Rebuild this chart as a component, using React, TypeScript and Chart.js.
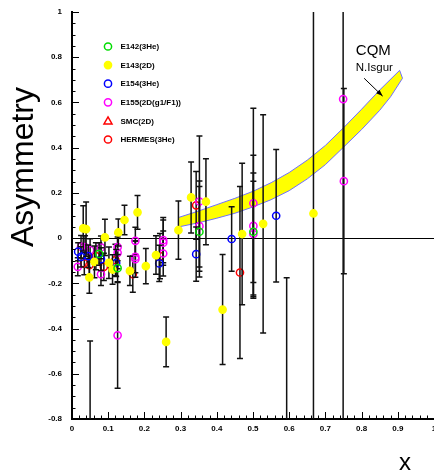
import { useEffect, useRef } from 'react';
import { Chart, registerables } from 'chart.js';

Chart.register(...registerables);

const FONT = '"Liberation Sans", Arial, Helvetica, sans-serif';

// ---- axis ticks ----
const xMajorTicks = [0, 0.1, 0.2, 0.3, 0.4, 0.5, 0.6, 0.7, 0.8, 0.9, 1];
const yMajorTicks = [-0.8, -0.6, -0.4, -0.2, 0, 0.2, 0.4, 0.6, 0.8, 1];

// ---- series (x, asymmetry, error) ----
const e142X = [0.075, 0.126, 0.352, 0.501];
const e142Y = [-0.07, -0.133, 0.028, 0.028];
const e142Err = [0.05, 0.06, 0.2, 0.224];

const e143X = [0.031, 0.039, 0.048, 0.062, 0.091, 0.102, 0.112, 0.128, 0.145, 0.16, 0.181, 0.204, 0.232, 0.26, 0.294, 0.329, 0.37, 0.416, 0.47, 0.528, 0.593, 0.667, 0.05];
const e143Y = [0.043, 0.04, -0.174, -0.105, 0.003, -0.109, -0.139, 0.025, 0.08, -0.145, 0.114, -0.124, -0.075, -0.459, 0.035, 0.18, 0.161, -0.316, 0.018, 0.063, -1.0, 0.109, -1.3];
const e143Err = [0.1, 0.12, 0.07, 0.07, 0.08, 0.07, 0.065, 0.06, 0.065, 0.065, 0.075, 0.078, 0.085, 0.11, 0.129, 0.157, 0.19, 0.243, 0.313, 0.483, 0.825, 2.0, 0.845];

const e154X = [0.017, 0.025, 0.045, 0.08, 0.122, 0.241, 0.343, 0.441, 0.564];
const e154Y = [-0.06, -0.083, -0.08, -0.093, -0.11, -0.112, -0.071, -0.004, 0.099];
const e154Err = [0.04, 0.045, 0.05, 0.05, 0.06, 0.08, 0.12, 0.143, 0.293];

const e155X = [0.016, 0.025, 0.036, 0.05, 0.08, 0.08, 0.126, 0.126, 0.126, 0.175, 0.175, 0.175, 0.252, 0.252, 0.252, 0.352, 0.352, 0.501, 0.501, 0.501, 0.749, 0.751];
const e155Y = [-0.127, -0.038, -0.04, -0.053, -0.041, -0.16, -0.04, -0.065, -0.43, -0.012, -0.083, -0.093, -0.009, -0.02, -0.068, 0.162, 0.053, 0.154, 0.054, 0.018, 0.615, 0.252];
const e155Err = [0.04, 0.05, 0.05, 0.05, 0.05, 0.05, 0.06, 0.07, 0.234, 0.06, 0.07, 0.08, 0.1, 0.1, 0.1, 0.29, 0.2, 0.42, 0.313, 0.27, 1.5, 0.41];

const smcX: number[] = [];
const smcY: number[] = [];
const smcErr: number[] = [];

const hermesX = [0.034, 0.048, 0.066, 0.088, 0.12, 0.168, 0.243, 0.343, 0.464];
const hermesY = [-0.112, -0.12, -0.08, -0.127, -0.097, -0.159, -0.08, 0.145, -0.152];
const hermesErr = [0.05, 0.05, 0.06, 0.06, 0.07, 0.08, 0.1, 0.15, 0.38];

// ---- CQM band (N. Isgur) ----
const bandUpperX = [0.296, 0.35, 0.4, 0.45, 0.5, 0.55, 0.6, 0.65, 0.7, 0.75, 0.8, 0.85, 0.905];
const bandUpperY = [0.092, 0.12, 0.148, 0.176, 0.207, 0.245, 0.29, 0.345, 0.41, 0.488, 0.57, 0.655, 0.742];
const bandLowerX = [0.296, 0.35, 0.4, 0.45, 0.5, 0.55, 0.6, 0.65, 0.7, 0.75, 0.8, 0.85, 0.88, 0.913];
const bandLowerY = [0.05, 0.068, 0.088, 0.11, 0.138, 0.17, 0.21, 0.262, 0.325, 0.402, 0.48, 0.565, 0.625, 0.707];

// annotation anchors (data coords)
const cqmLabelAt = { x: 0.784, y: 0.81 };
const isgurLabelAt = { x: 0.784, y: 0.739 };
const arrowFrom = { x: 0.807, y: 0.707 };
const arrowTo = { x: 0.858, y: 0.628 };

const pts = (xs: number[], ys: number[]) => xs.map((x, i) => ({ x, y: ys[i] }));

const fmt = (v: number) => {
  const r = Math.round(v * 10) / 10;
  return r === 0 ? '0' : String(r);
};

const errorBarPlugin = {
  id: 'errorBars',
  beforeDatasetDraw(chart: any, args: any) {
    const ds = chart.data.datasets[args.index];
    if (!ds.errors) return;
    const { ctx, chartArea, scales } = chart;
    const xs = scales.x, ys = scales.y;
    ctx.save();
    ctx.beginPath();
    ctx.rect(chartArea.left, chartArea.top, chartArea.right - chartArea.left, chartArea.bottom - chartArea.top);
    ctx.clip();
    ctx.strokeStyle = '#111';
    ctx.lineWidth = 1.5;
    ds.data.forEach((p: any, j: number) => {
      const e = ds.errors[j];
      const px = xs.getPixelForValue(p.x);
      const yt = ys.getPixelForValue(p.y + e);
      const yb = ys.getPixelForValue(p.y - e);
      ctx.beginPath();
      ctx.moveTo(px, yt);
      ctx.lineTo(px, yb);
      ctx.moveTo(px - 3, yt);
      ctx.lineTo(px + 3, yt);
      ctx.moveTo(px - 3, yb);
      ctx.lineTo(px + 3, yb);
      ctx.stroke();
    });
    ctx.restore();
  },
};

const decorPlugin = {
  id: 'decor',
  afterDraw(chart: any) {
    const { ctx, chartArea, scales } = chart;
    const xs = scales.x, ys = scales.y;
    ctx.save();
    // inward tick marks
    ctx.strokeStyle = '#000';
    ctx.lineWidth = 1;
    ctx.beginPath();
    for (let i = 0; i <= 50; i++) {
      const v = i * 0.02;
      const px = Math.round(xs.getPixelForValue(v)) + 0.5;
      const len = i % 5 === 0 ? 7 : 3.5;
      ctx.moveTo(px, chartArea.bottom);
      ctx.lineTo(px, chartArea.bottom - len);
    }
    for (let i = 0; i <= 36; i++) {
      const v = -0.8 + i * 0.05;
      const py = Math.round(ys.getPixelForValue(v)) + 0.5;
      const len = i % 4 === 0 ? 7 : 3.5;
      ctx.moveTo(chartArea.left, py);
      ctx.lineTo(chartArea.left + len, py);
    }
    ctx.stroke();

    // legend
    const items = chart.data.datasets.filter((d: any) => d.legendLabel);
    const lx = chartArea.left + 36;
    const ly0 = chartArea.top + 34.5;
    const dy = 18.6;
    ctx.font = `bold 8px ${FONT}`;
    ctx.textBaseline = 'middle';
    ctx.textAlign = 'left';
    items.forEach((d: any, i: number) => {
      const y = ly0 + i * dy;
      ctx.lineWidth = 1.5;
      ctx.strokeStyle = d.borderColor;
      ctx.fillStyle = d.backgroundColor;
      ctx.beginPath();
      if (d.pointStyle === 'triangle') {
        ctx.moveTo(lx, y - 4);
        ctx.lineTo(lx + 4, y + 3);
        ctx.lineTo(lx - 4, y + 3);
        ctx.closePath();
      } else {
        ctx.arc(lx, y, 3.6, 0, Math.PI * 2);
      }
      if (d.filled) ctx.fill();
      ctx.stroke();
      ctx.fillStyle = '#000';
      ctx.fillText(d.legendLabel, lx + 12.5, y + 0.5);
    });

    // CQM annotation
    ctx.fillStyle = '#000';
    ctx.textBaseline = 'alphabetic';
    ctx.font = `15px ${FONT}`;
    ctx.fillText('CQM', xs.getPixelForValue(cqmLabelAt.x), ys.getPixelForValue(cqmLabelAt.y));
    ctx.font = `11.5px ${FONT}`;
    ctx.fillText('N.Isgur', xs.getPixelForValue(isgurLabelAt.x), ys.getPixelForValue(isgurLabelAt.y));
    const ax0 = xs.getPixelForValue(arrowFrom.x), ay0 = ys.getPixelForValue(arrowFrom.y);
    const ax1 = xs.getPixelForValue(arrowTo.x), ay1 = ys.getPixelForValue(arrowTo.y);
    ctx.strokeStyle = '#000';
    ctx.lineWidth = 1;
    ctx.beginPath();
    ctx.moveTo(ax0, ay0);
    ctx.lineTo(ax1, ay1);
    ctx.stroke();
    const ang = Math.atan2(ay1 - ay0, ax1 - ax0);
    ctx.beginPath();
    ctx.moveTo(ax1, ay1);
    ctx.lineTo(ax1 - 7 * Math.cos(ang - 0.35), ay1 - 7 * Math.sin(ang - 0.35));
    ctx.lineTo(ax1 - 7 * Math.cos(ang + 0.35), ay1 - 7 * Math.sin(ang + 0.35));
    ctx.closePath();
    ctx.fillStyle = '#000';
    ctx.fill();

    // axis titles
    ctx.fillStyle = '#000';
    ctx.font = `32px ${FONT}`;
    ctx.textAlign = 'center';
    ctx.textBaseline = 'middle';
    ctx.save();
    ctx.translate(24, 167);
    ctx.rotate(-Math.PI / 2);
    ctx.fillText('Asymmetry', 0, 0);
    ctx.restore();
    ctx.font = `24px ${FONT}`;
    ctx.textBaseline = 'alphabetic';
    ctx.fillText('x', xs.getPixelForValue(0.92), chart.height - 2);
    ctx.restore();
  },
};

export default function App() {
  const ref = useRef<HTMLCanvasElement | null>(null);

  useEffect(() => {
    if (!ref.current) return;
    const bandData = [
      ...pts(bandUpperX, bandUpperY),
      ...pts(bandLowerX, bandLowerY).reverse(),
    ];
    const circle = (label: string, xs: number[], ys: number[], errs: number[], color: string, filled = false, style = 'circle') => ({
      type: 'scatter' as const,
      label,
      legendLabel: label,
      data: pts(xs, ys),
      errors: errs,
      pointStyle: style,
      pointRadius: 3.6,
      pointBorderWidth: 1.5,
      borderColor: color,
      backgroundColor: filled ? color : 'rgba(0,0,0,0)',
      pointBackgroundColor: filled ? color : 'rgba(0,0,0,0)',
      pointBorderColor: color,
      filled,
      order: 1,
    });
    const chart = new Chart(ref.current, {
      type: 'scatter',
      data: {
        datasets: [
          {
            type: 'line',
            label: 'CQM',
            data: bandData,
            fill: 'shape',
            backgroundColor: '#ffff00',
            borderColor: '#6f6fff',
            borderWidth: 1,
            pointRadius: 0,
            tension: 0,
            order: 10,
          } as any,
          circle('E142(3He)', e142X, e142Y, e142Err, '#00dd00'),
          circle('E143(2D)', e143X, e143Y, e143Err, '#ffff00', true),
          circle('E154(3He)', e154X, e154Y, e154Err, '#0000ff'),
          circle('E155(2D(g1/F1))', e155X, e155Y, e155Err, '#ff00ff'),
          circle('SMC(2D)', smcX, smcY, smcErr, '#ff0000', false, 'triangle'),
          circle('HERMES(3He)', hermesX, hermesY, hermesErr, '#ff0000'),
        ] as any,
      },
      options: {
        animation: false,
        responsive: false,
        maintainAspectRatio: false,
        events: [],
        layout: { padding: { top: 12, right: 0, left: 0, bottom: 0 }, autoPadding: false },
        plugins: { legend: { display: false }, tooltip: { enabled: false } },
        scales: {
          x: {
            type: 'linear',
            min: 0,
            max: 1,
            afterBuildTicks: (s: any) => { s.ticks = xMajorTicks.map((v) => ({ value: v })); },
            ticks: {
              autoSkip: false,
              maxRotation: 0,
              padding: 5,
              color: '#000',
              font: { size: 8, weight: 'bold', family: FONT },
              callback: (v: any) => fmt(Number(v)),
            },
            grid: { display: false, drawTicks: false },
            border: { display: true, color: '#000', width: 2 },
            afterFit: (s: any) => { s.height = 53; s.paddingLeft = 0; s.paddingRight = 0; },
          },
          y: {
            type: 'linear',
            min: -0.8,
            max: 1,
            afterBuildTicks: (s: any) => { s.ticks = yMajorTicks.map((v) => ({ value: v })); },
            ticks: {
              autoSkip: false,
              padding: 10,
              color: '#000',
              font: { size: 8, weight: 'bold', family: FONT },
              callback: (v: any) => fmt(Number(v)),
            },
            grid: {
              display: true,
              drawTicks: false,
              lineWidth: 1,
              color: (c: any) => (c.tick && Math.abs(c.tick.value) < 1e-9 ? '#000' : 'rgba(0,0,0,0)'),
            },
            border: { display: true, color: '#000', width: 2 },
            afterFit: (s: any) => { s.width = 72; s.paddingTop = 0; s.paddingBottom = 0; },
          },
        },
      } as any,
      plugins: [errorBarPlugin, decorPlugin],
    });
    return () => chart.destroy();
  }, []);

  return (
    <div style={{ position: 'fixed', left: 0, top: 0, width: 434, height: 472, background: '#fff' }}>
      <canvas ref={ref} width={434} height={472} style={{ display: 'block' }} />
    </div>
  );
}
